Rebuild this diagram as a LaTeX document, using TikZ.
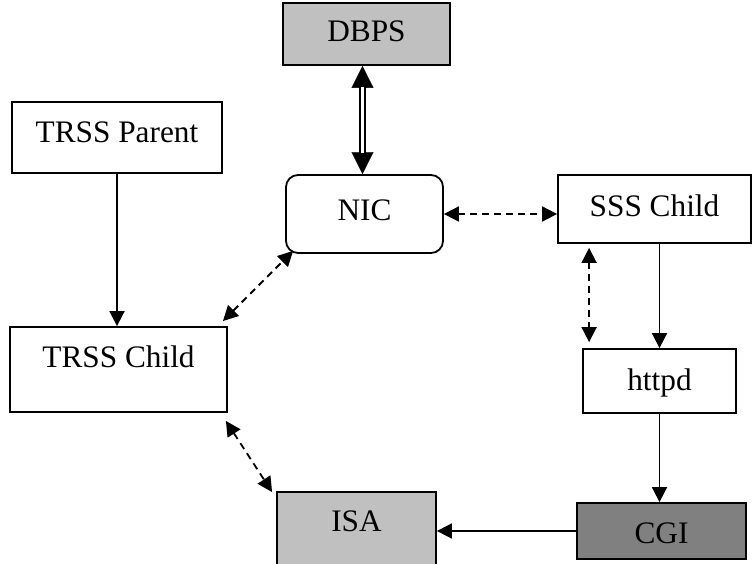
\documentclass[tikz,border=0pt]{standalone}
\usepackage{fontspec}
\setmainfont{Liberation Serif}
\usetikzlibrary{arrows.meta,calc}
\definecolor{lightbox}{HTML}{C0C0C0}
\definecolor{darkbox}{HTML}{808080}
\begin{document}
\begin{tikzpicture}[x=1pt,y=-1pt,
  box/.style={draw=black, line width=1.8pt, inner sep=0pt, fill=white,
    font=\fontsize{31.3}{36}\selectfont},
  conn/.style={line width=1.8pt, -{Triangle[length=15pt,width=15pt]}},
  dconn/.style={line width=1.8pt, dash pattern=on 7pt off 5pt,
    {Triangle[length=15pt,width=15pt]}-{Triangle[length=15pt,width=15pt]}},
]
\useasboundingbox (0,0) rectangle (752,564);
\clip (0,0) rectangle (752,564);

% boxes
\node[box, fill=lightbox, minimum width=167pt, minimum height=62pt,
  text height=22pt, text depth=6pt] (dbps) at (366.5,34) {DBPS};
\node[box, minimum width=210pt, minimum height=71pt,
  text height=22pt, text depth=11pt] (tp) at (117,137.5) {TRSS Parent};
\node[box, rounded corners=12pt, minimum width=157pt, minimum height=78pt,
  text height=22pt, text depth=10pt] (nic) at (364.5,214) {NIC};
\node[box, minimum width=193pt, minimum height=68pt,
  text height=22pt, text depth=6pt] (sss) at (654.5,209) {SSS Child};
\node[box, minimum width=217pt, minimum height=85pt,
  text height=22pt, text depth=27pt] (tc) at (118.5,369.5) {TRSS Child};
\node[box, minimum width=153pt, minimum height=64pt,
  text height=24pt, text depth=6pt] (httpd) at (659.5,381) {httpd};
\node[box, fill=darkbox, minimum width=169pt, minimum height=56pt,
  text height=26pt, text depth=2pt] (cgi) at (661.5,531) {CGI};
\node[box, fill=lightbox, minimum width=159pt, minimum height=88pt,
  text height=22pt, text depth=32pt] (isa) at (356.5,536) {ISA};

% double arrow DBPS <-> NIC
\coordinate (dtop) at ([xshift=-2pt]nic.north |- dbps.south);
\coordinate (dbot) at ([xshift=-2pt]nic.north);
\draw[line width=0.4pt, {Triangle[length=22pt,width=22pt]}-{Triangle[length=22pt,width=22pt]}] (dtop) -- (dbot);
\draw[line width=1.8pt, double=white, double distance=3pt, shorten <=21pt, shorten >=21pt] (dtop) -- (dbot);

% solid arrows
\draw[conn] (tp.south) -- (tp.south |- tc.north);
\draw[conn] (sss.south -| httpd.north) -- (httpd.north);
\draw[conn] (httpd.south) -- (httpd.south |- cgi.north);
\draw[conn] (cgi.west) -- (cgi.west -| isa.east);

% dashed double-headed arrows
\draw[dconn] (nic.east) -- (nic.east -| sss.west);
\draw[dconn] ([shift={(-5,-5)}]tc.north east) -- ([shift={(8,-3)}]nic.south west);
\draw[dconn] ([shift={(32,4)}]sss.south west) -- ([shift={(7,-6)}]httpd.north west);
\draw[dconn] ([shift={(-2,8)}]tc.south east) -- ([shift={(-4,1)}]isa.north west);
\end{tikzpicture}
\end{document}
